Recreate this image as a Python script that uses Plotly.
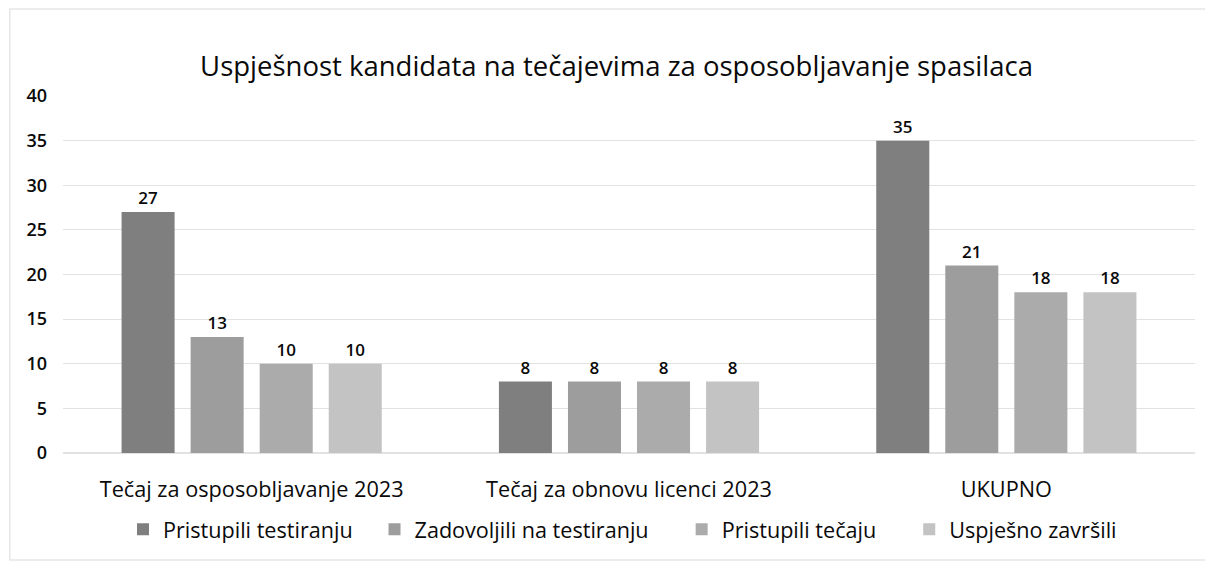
import plotly.graph_objects as go

categories = ["Tečaj za osposobljavanje 2023", "Tečaj za obnovu licenci 2023", "UKUPNO"]
series_names = ["Pristupili testiranju", "Zadovoljili na testiranju", "Pristupili tečaju", "Uspješno završili"]
pristupili_testiranju = [27, 8, 35]
zadovoljili = [13, 8, 21]
pristupili_tecaju = [10, 8, 18]
uspjesno = [10, 8, 18]
y_ticks = [0, 5, 10, 15, 20, 25, 30, 35, 40]

colors = ["#7f7f7f", "#9d9d9d", "#ababab", "#c3c3c3"]
legend_pad = [3, 5, 5, 0]  # trailing non-breaking spaces to widen legend spacing
values = [pristupili_testiranju, zadovoljili, pristupili_tecaju, uspjesno]

FONT = "'Open Sans', sans-serif"
TXT = "#0a0a0a"

fig = go.Figure()
for name, vals, col, pad in zip(series_names, values, colors, legend_pad):
    fig.add_trace(go.Bar(
        x=categories, y=vals, name=name + "\u00a0" * pad,
        marker=dict(color=col, line=dict(width=0)),
        text=vals, textposition="outside",
        textfont=dict(size=17, color=TXT, family=FONT, weight=600),
        cliponaxis=False,
    ))

fig.update_layout(
    width=1205, height=555,
    paper_bgcolor="white", plot_bgcolor="white",
    margin=dict(l=55, r=18, t=88, b=110, autoexpand=False),
    barmode="group", bargap=0.268, bargroupgap=0.232,
    title=dict(text="Uspješnost kandidata na tečajevima za osposobljavanje spasilaca",
               x=0.505, xanchor="center", yref="container", y=0.894, yanchor="middle",
               font=dict(size=27.5, color=TXT, family=FONT)),
    font=dict(family=FONT, color=TXT),
    showlegend=True,
    legend=dict(orientation="h", x=0.053, xanchor="left", yref="container", y=0.06, yanchor="middle",
                font=dict(size=21.6, color=TXT, family=FONT),
                itemwidth=30, traceorder="normal"),
    xaxis=dict(showline=False, ticks="", automargin=False, ticklabelstandoff=21,
               tickfont=dict(size=21.7, color=TXT, family=FONT)),
    yaxis=dict(range=[0, 40], tickvals=y_ticks, showgrid=True, gridcolor="#e2e2e2",
               gridwidth=1, zeroline=True, zerolinecolor="#e2e2e2", automargin=False,
               ticks="", tickfont=dict(size=18, color=TXT, family=FONT, weight=600), ticklabelstandoff=15),
)

fig.add_shape(type="rect", xref="paper", yref="paper",
              x0=-0.047, x1=1.015, y0=-0.30, y1=1.2437,
              line=dict(color="#e6e6e6", width=1.5), fillcolor="rgba(0,0,0,0)", layer="below")

fig.write_html("out.html")
